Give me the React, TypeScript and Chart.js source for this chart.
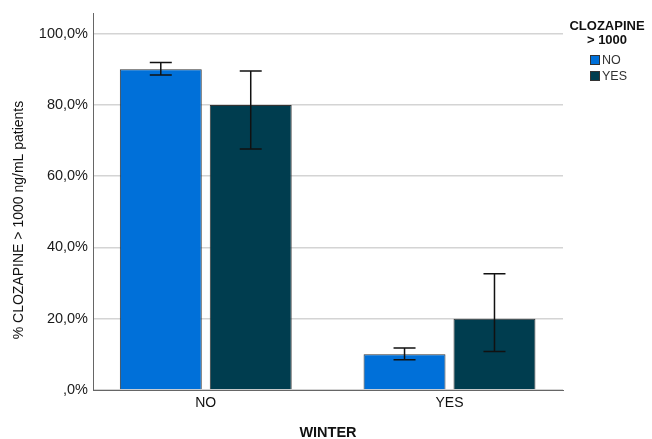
import React, { useEffect, useRef } from "react";
import { Chart, registerables } from "chart.js";

Chart.register(...registerables);

const categories = ["NO", "YES"];
const seriesNames = ["NO", "YES"];
const valuesNo = [90, 10];
const valuesYes = [80, 20];
const errLowNo = [88.4, 8.5];
const errHighNo = [91.9, 11.8];
const errLowYes = [67.6, 10.8];
const errHighYes = [89.5, 32.6];
const yTicks = [0, 20, 40, 60, 80, 100];
const colors = ["#0070d9", "#003d4f"];
const xTitle = "WINTER";
const yTitle = "% CLOZAPINE > 1000 ng/mL patients";
const legendTitle = ["CLOZAPINE", "> 1000"];

const FONT = "'Liberation Sans', Arial, sans-serif";

export default function App() {
  const ref = useRef<HTMLCanvasElement>(null);
  useEffect(() => {
    document.body.style.margin = "0";
    const ctx = ref.current!.getContext("2d")!;
    const lows = [errLowNo, errLowYes];
    const highs = [errHighNo, errHighYes];

    const errorPlugin = {
      id: "errbars",
      afterDatasetsDraw(chart: any) {
        const c = chart.ctx;
        const ys = chart.scales.y;
        c.save();
        c.strokeStyle = "#111";
        c.lineWidth = 1.5;
        chart.data.datasets.forEach((ds: any, di: number) => {
          const meta = chart.getDatasetMeta(di);
          meta.data.forEach((bar: any, i: number) => {
            const x = bar.x;
            const yl = ys.getPixelForValue(lows[di][i]);
            const yh = ys.getPixelForValue(highs[di][i]);
            c.beginPath();
            c.moveTo(x, yl);
            c.lineTo(x, yh);
            c.moveTo(x - 11, yl);
            c.lineTo(x + 11, yl);
            c.moveTo(x - 11, yh);
            c.lineTo(x + 11, yh);
            c.stroke();
          });
        });
        c.restore();
      },
    };

    const textPlugin = {
      id: "customText",
      afterDraw(chart: any) {
        const c = chart.ctx;
        const area = chart.chartArea;
        c.save();
        c.textBaseline = "middle";
        c.textAlign = "center";
        c.fillStyle = "#111";
        c.font = `bold 14.5px ${FONT}`;
        c.fillText(xTitle, (area.left + area.right) / 2, 432.5);
        c.save();
        c.translate(19, 220);
        c.rotate(-Math.PI / 2);
        c.font = `14px ${FONT}`;
        c.fillText(yTitle, 0, 0);
        c.restore();
        c.font = `bold 13px ${FONT}`;
        c.fillText(legendTitle[0], 607, 26);
        c.fillText(legendTitle[1], 607, 40);
        c.font = `12.5px ${FONT}`;
        c.textAlign = "left";
        seriesNames.forEach((name, i) => {
          const y = 60 + i * 16;
          c.fillStyle = colors[i];
          c.fillRect(590, y - 5, 10, 10);
          c.strokeStyle = "#333";
          c.lineWidth = 1;
          c.strokeRect(590.5, y - 4.5, 9, 9);
          c.fillStyle = "#333";
          c.fillText(name, 602, y + 0.5);
        });
        c.restore();
      },
    };

    const chart = new Chart(ctx, {
      type: "bar",
      data: {
        datasets: seriesNames.map((name, di) => ({
          label: name,
          data: (di === 0 ? valuesNo : valuesYes).map((v, i) => ({ x: i, y: v })),
          backgroundColor: colors[di],
          borderColor: "#333",
          borderWidth: 1,
          categoryPercentage: 0.738,
          barPercentage: 0.911,
        })),
      },
      options: {
        animation: false,
        responsive: false,
        maintainAspectRatio: false,
        layout: { padding: { left: 0, right: 89, top: 12, bottom: 0 } },
        plugins: { legend: { display: false }, tooltip: { enabled: false } },
        scales: {
          x: {
            type: "linear",
            offset: false,
            bounds: "data",
            min: -0.4626,
            max: 1.4656,
            afterBuildTicks: (s: any) => {
              s.ticks = categories.map((_, i) => ({ value: i }));
            },
            afterFit: (s: any) => {
              s.height = 49;
            },
            ticks: {
              callback: (v: any) => categories[v] ?? "",
              font: { family: FONT, size: 14 },
              color: "#111",
              padding: 5,
              maxRotation: 0,
              autoSkip: false,
            },
            grid: { display: false, drawTicks: false, offset: false },
            border: { display: true, color: "#666", width: 1 },
          },
          y: {
            min: 0,
            max: 105.6,
            afterBuildTicks: (s: any) => {
              s.ticks = yTicks.map((v) => ({ value: v }));
            },
            afterFit: (s: any) => {
              s.width = 93;
            },
            ticks: {
              callback: (v: any) =>
                (v === 0 ? "" : String(v)) + ",0%",
              font: { family: FONT, size: 14.5 },
              color: "#1a1a1a",
              padding: 5,
            },
            grid: {
              color: "#d4d4d4",
              lineWidth: 1.5,
              drawTicks: false,
            },
            border: { display: true, color: "#666", width: 1 },
          },
        },
      },
      plugins: [errorPlugin, textPlugin],
    });
    return () => chart.destroy();
  }, []);
  return <canvas ref={ref} width={652} height={439} style={{ display: "block" }} />;
}
